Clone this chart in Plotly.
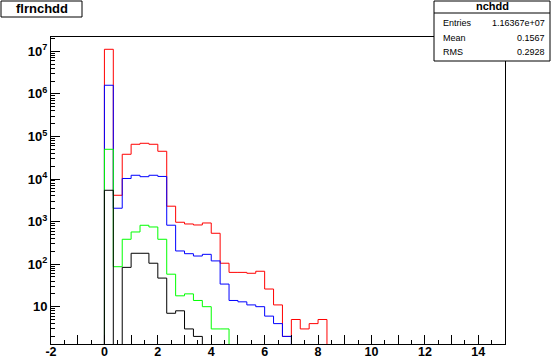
import plotly.graph_objects as go

# ---------------- data ----------------
BIN_WIDTH = 1.0 / 3.0
FIRST_EDGE = 0.0

red_vals = [1.12e7, 4150, 38200, 65600, 69200, 65600, 44900, 2300, 964, 879, 832,
            927, 531, 105, 64, 64, 61, 68, 26, 11, 2, 5, 3, 4, 5]
blue_vals = [1.6e6, 2060, 10300, 12250, 11350, 12250, 11500, 822, 204, 176, 155,
             170, 119, 34, 14, 13, 11, 10, 6, 4, 2]
green_vals = [50000, 87, 384, 570, 819, 747, 384, 58, 18, 20, 14, 10, 3, 3]
black_vals = [5440, 0, 84, 180, 180, 105, 47, 7, 8, 3, 2]

x_tick_vals = list(range(-2, 16))
x_tick_text = [str(v) if v % 2 == 0 else "" for v in x_tick_vals]
y_tick_vals = [10, 100, 1e3, 1e4, 1e5, 1e6, 1e7]
y_tick_text = ["10", "10<sup>2</sup>", "10<sup>3</sup>", "10<sup>4</sup>",
               "10<sup>5</sup>", "10<sup>6</sup>", "10<sup>7</sup>"]

hist_title = "flrnchdd"
stats_title = "nchdd"
stats_rows = [("Entries", "1.16367e+07"), ("Mean", "0.1567"), ("RMS", "0.2928")]

# ---------------- figure ----------------
W, H = 551, 359
ML, MR, MT, MB = 51, 46, 37, 15
PW, PH = W - ML - MR, H - MT - MB
BASE = 1e-3  # below the visible log range (draws the outline down to the axis)


def outline(vals):
    edges = [FIRST_EDGE + i * BIN_WIDTH for i in range(len(vals) + 1)]
    ys = [v if v > 0 else BASE for v in vals]
    xs = [edges[0]] + edges[:-1] + [edges[-1]]
    return xs, [BASE] + ys + [BASE]


def px(xp):
    return (xp - ML) / PW


def py(yp):
    return (H - MB - yp) / PH


fig = go.Figure()
for vals, col in [(red_vals, "#ff0000"), (blue_vals, "#0000ff"),
                  (green_vals, "#00ff00"), (black_vals, "#000000")]:
    xs, ys = outline(vals)
    fig.add_trace(go.Scatter(x=xs, y=ys, mode="lines", line=dict(color=col, width=1, shape="hv"),
                             showlegend=False, hoverinfo="skip"))

minor_y = []
for e in range(0, 8):
    for k in range(2, 10):
        minor_y.append(k * 10 ** e)

font_b = dict(family="Liberation Sans, Arial, sans-serif", size=13, color="black", weight="bold")

fig.update_layout(
    width=W, height=H, autosize=False,
    margin=dict(l=ML, r=MR, t=MT, b=MB, pad=0),
    paper_bgcolor="white", plot_bgcolor="white",
    xaxis=dict(range=[-2, 15], showgrid=False, zeroline=False, automargin=False,
               showline=True, mirror=True, linecolor="black", linewidth=1,
               tickmode="array", tickvals=x_tick_vals, ticktext=x_tick_text,
               ticks="inside", ticklen=9, tickcolor="black", tickwidth=1,
               ticklabelstandoff=-4,
               minor=dict(tickmode="linear", tick0=-2, dtick=0.5, ticks="inside",
                          ticklen=4, tickcolor="black", tickwidth=1, showgrid=False),
               tickfont=dict(font_b, size=12.5)),
    yaxis=dict(type="log", range=[0.123, 7.338], showgrid=False, zeroline=False, automargin=False,
               showline=True, mirror=True, linecolor="black", linewidth=1,
               tickmode="array", tickvals=y_tick_vals, ticktext=y_tick_text,
               ticks="inside", ticklen=9, tickcolor="black", tickwidth=1,
               minor=dict(tickmode="array", tickvals=minor_y, ticks="inside",
                          ticklen=4, tickcolor="black", tickwidth=1, showgrid=False),
               tickfont=font_b),
)

# title box
fig.add_shape(type="rect", xref="paper", yref="paper", x0=px(1), x1=px(82), y0=py(17), y1=py(1),
              line=dict(color="black", width=1), fillcolor="white", layer="above")
fig.add_annotation(xref="paper", yref="paper", x=px(41.5), y=py(9), text=hist_title, showarrow=False,
                   xanchor="center", yanchor="middle",
                   font=dict(family="Liberation Sans, Arial, sans-serif", size=13, color="black", weight="bold"))

# stats box
fig.add_shape(type="rect", xref="paper", yref="paper", x0=px(434), x1=px(550), y0=py(61), y1=py(1),
              line=dict(color="black", width=1), fillcolor="white", layer="above")
fig.add_shape(type="line", xref="paper", yref="paper", x0=px(434), x1=px(550), y0=py(13), y1=py(13),
              line=dict(color="black", width=1), layer="above")
fig.add_annotation(xref="paper", yref="paper", x=px(492), y=py(6.5), text=stats_title, showarrow=False,
                   xanchor="center", yanchor="middle",
                   font=dict(family="Liberation Sans, Arial, sans-serif", size=11, color="black", weight="bold"))
row_y = [23, 38, 52]
for (lab, val), yy in zip(stats_rows, row_y):
    fig.add_annotation(xref="paper", yref="paper", x=px(441), y=py(yy), text=lab, showarrow=False,
                       xanchor="left", yanchor="middle",
                       font=dict(family="Liberation Sans, Arial, sans-serif", size=9, color="black"))
    fig.add_annotation(xref="paper", yref="paper", x=px(547), y=py(yy), text=val, showarrow=False,
                       xanchor="right", yanchor="middle",
                       font=dict(family="Liberation Sans, Arial, sans-serif", size=9, color="black"))

fig.write_html("out.html")
